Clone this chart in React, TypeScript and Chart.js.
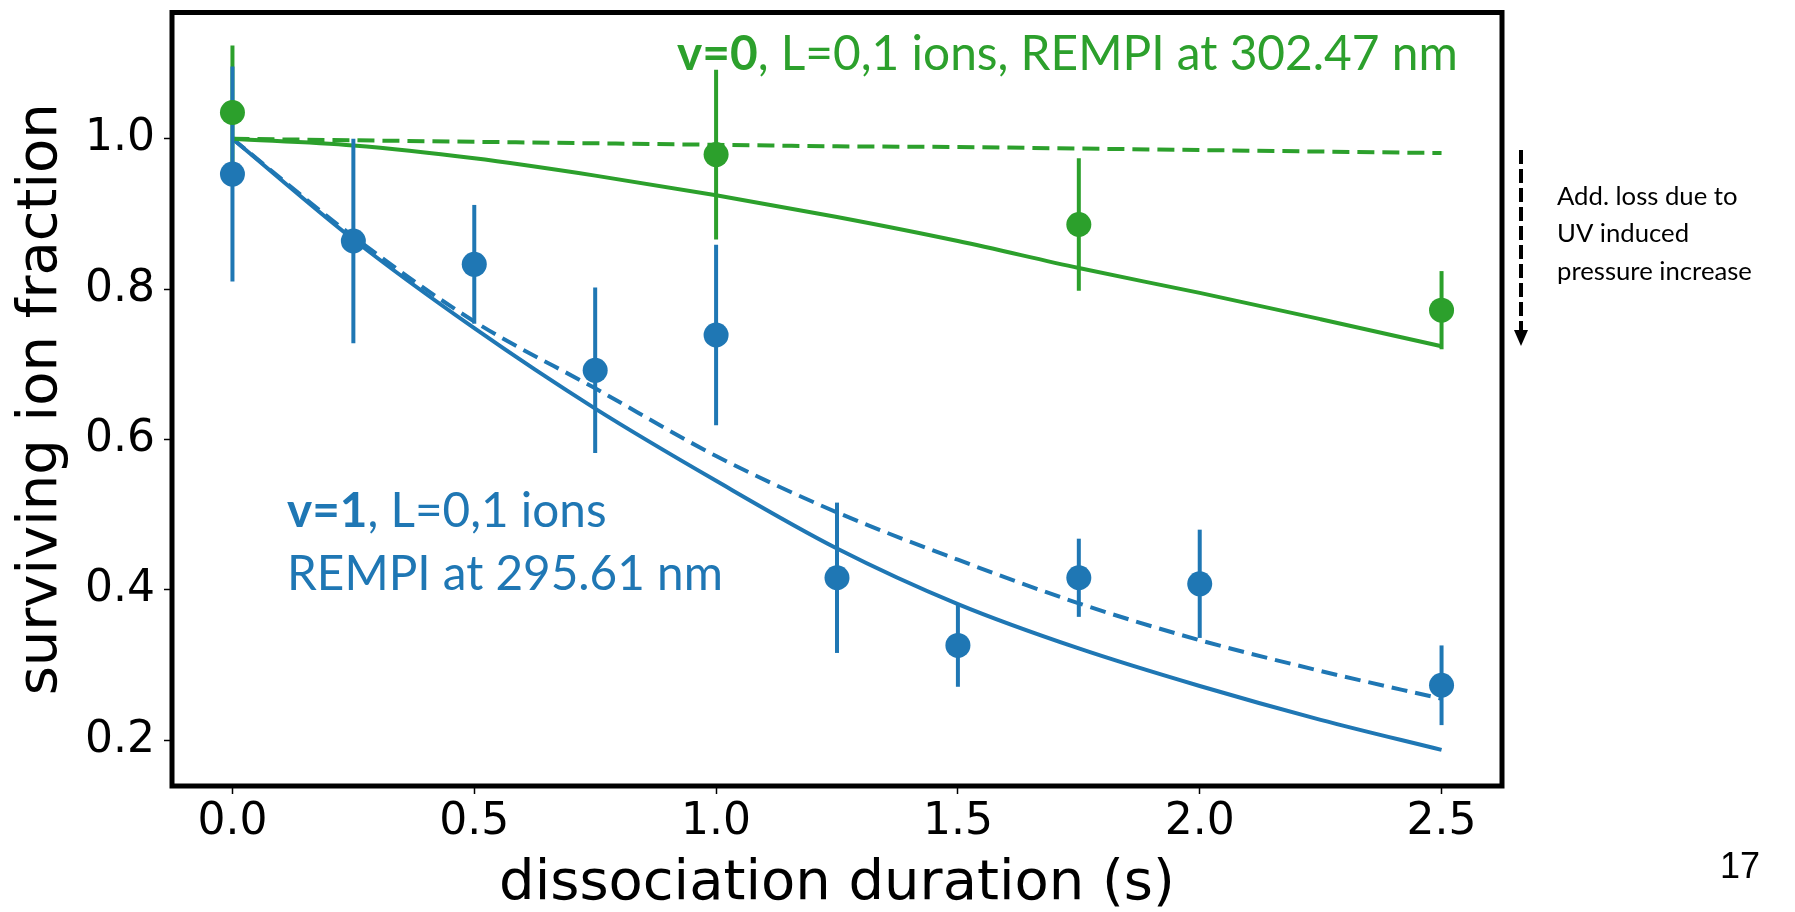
import React, { useEffect, useRef } from 'react';
import { Chart, registerables } from 'chart.js';

Chart.register(...registerables);

// ---- data ----
const blueX = [0, 0.25, 0.5, 0.75, 1.0, 1.25, 1.5, 1.75, 2.0, 2.5];
const blueY = [0.953, 0.864, 0.833, 0.692, 0.739, 0.416, 0.326, 0.416, 0.408, 0.273];
const blueErr = [0.143, 0.136, 0.079, 0.11, 0.12, 0.1, 0.055, 0.052, 0.072, 0.053];

const greenX = [0, 1.0, 1.75, 2.5];
const greenY = [1.035, 0.979, 0.886, 0.772];
const greenErr = [0.089, 0.113, 0.088, 0.052];

const fitX = [0, 0.25, 0.5, 0.75, 1.0, 1.25, 1.5, 1.75, 2.0, 2.25, 2.5];
const blueFit = [1.0, 0.866, 0.748, 0.641, 0.545, 0.455, 0.381, 0.322, 0.272, 0.227, 0.187];
const blueFitDashed = [1.0, 0.870, 0.757, 0.668, 0.578, 0.503, 0.440, 0.382, 0.333, 0.292, 0.255];
const greenFit = [1.0, 0.991, 0.974, 0.951, 0.925, 0.896, 0.864, 0.828, 0.795, 0.760, 0.724];
const greenFitDashed = [1.0, 0.998, 0.996, 0.994, 0.992, 0.990, 0.989, 0.987, 0.985, 0.983, 0.981];

const xTicks = [0, 0.5, 1.0, 1.5, 2.0, 2.5];
const yTicks = [0.2, 0.4, 0.6, 0.8, 1.0];

const xLabel = 'dissociation duration (s)';
const yLabel = 'surviving ion fraction';
const greenBold = 'v=0';
const greenRest = ', L=0,1 ions, REMPI at 302.47 nm';
const blueBold = 'v=1';
const blueRest = ', L=0,1 ions';
const blueLine2 = 'REMPI at 295.61 nm';
const noteLines = ['Add. loss due to', 'UV induced', 'pressure increase'];
const pageNumber = '17';

const BLUE = '#1f77b4';
const GREEN = '#2ca02c';
const TEXT_FONT = 'Lato';
const AXIS_FONT = 'DejaVu Sans';

type Part = { text: string; bold?: boolean };

function measureParts(ctx: CanvasRenderingContext2D, parts: Part[], size: number) {
  let w = 0;
  for (const p of parts) {
    ctx.font = `${p.bold ? 'bold ' : ''}${size}px ${TEXT_FONT}`;
    w += ctx.measureText(p.text).width;
  }
  return w;
}
function fitSize(ctx: CanvasRenderingContext2D, parts: Part[], target: number) {
  const w = measureParts(ctx, parts, 100);
  return (100 * target) / w;
}
function drawParts(ctx: CanvasRenderingContext2D, parts: Part[], x: number, y: number, size: number, color: string) {
  let cx = x;
  ctx.fillStyle = color;
  ctx.textBaseline = 'alphabetic';
  ctx.textAlign = 'left';
  for (const p of parts) {
    ctx.font = `${p.bold ? 'bold ' : ''}${size}px ${TEXT_FONT}`;
    ctx.fillText(p.text, cx, y);
    cx += ctx.measureText(p.text).width;
  }
}

const overlayPlugin = {
  id: 'overlay',
  beforeDatasetDraw(chart: any, args: any) {
    if (args.index !== 1) return;
    const ctx = chart.ctx as CanvasRenderingContext2D;
    const xs = chart.scales.x;
    const ys = chart.scales.y;
    ctx.save();
    ctx.lineWidth = 4;
    ctx.lineCap = 'butt';
    const bars = (X: number[], Y: number[], E: number[], color: string) => {
      ctx.strokeStyle = color;
      for (let i = 0; i < X.length; i++) {
        const px = xs.getPixelForValue(X[i]);
        ctx.beginPath();
        ctx.moveTo(px, ys.getPixelForValue(Y[i] - E[i]));
        ctx.lineTo(px, ys.getPixelForValue(Y[i] + E[i]));
        ctx.stroke();
      }
    };
    bars(greenX, greenY, greenErr, GREEN);
    bars(blueX, blueY, blueErr, BLUE);
    ctx.restore();
  },
  afterDraw(chart: any) {
    const ctx = chart.ctx as CanvasRenderingContext2D;
    const a = chart.chartArea;
    ctx.save();
    // frame
    ctx.strokeStyle = '#000';
    ctx.lineWidth = 5;
    ctx.strokeRect(a.left, a.top, a.right - a.left, a.bottom - a.top);

    // green annotation
    const gParts: Part[] = [{ text: greenBold, bold: true }, { text: greenRest }];
    const gSize = fitSize(ctx, gParts, 781);
    drawParts(ctx, gParts, 677, 70, gSize, GREEN);

    // blue annotation
    const bSize = fitSize(ctx, [{ text: blueLine2 }], 436);
    drawParts(ctx, [{ text: blueBold, bold: true }, { text: blueRest }], 287, 527, bSize, BLUE);
    drawParts(ctx, [{ text: blueLine2 }], 287, 590, bSize, BLUE);

    // right note
    const nSize = fitSize(ctx, [{ text: noteLines[2] }], 195);
    const noteY = [205, 242, 280];
    noteLines.forEach((t, i) => drawParts(ctx, [{ text: t }], 1557, noteY[i], nSize, '#000'));

    // dashed arrow
    ctx.strokeStyle = '#000';
    ctx.lineWidth = 4;
    ctx.setLineDash([14, 5]);
    ctx.beginPath();
    ctx.moveTo(1521, 150);
    ctx.lineTo(1521, 331);
    ctx.stroke();
    ctx.setLineDash([]);
    ctx.fillStyle = '#000';
    ctx.beginPath();
    ctx.moveTo(1514, 330);
    ctx.lineTo(1528, 330);
    ctx.lineTo(1521, 346);
    ctx.closePath();
    ctx.fill();

    // page number
    ctx.fillStyle = '#000';
    ctx.font = '36px "Liberation Sans"';
    ctx.textAlign = 'left';
    ctx.textBaseline = 'alphabetic';
    ctx.fillText(pageNumber, 1720, 878);
    ctx.restore();
  },
};

export default function App() {
  const canvasRef = useRef<HTMLCanvasElement | null>(null);

  useEffect(() => {
    const canvas = canvasRef.current;
    if (!canvas) return;
    const pts = (X: number[], Y: number[]) => X.map((x, i) => ({ x, y: Y[i] }));
    const tickFont = { family: AXIS_FONT, size: 44, lineHeight: 1 };
    const titleFont = { family: AXIS_FONT, size: 56, lineHeight: 1 };
    const chart = new Chart(canvas, {
      type: 'scatter',
      data: {
        datasets: [
          {
            data: pts(greenX, greenY),
            backgroundColor: GREEN,
            borderWidth: 0,
            pointRadius: 12.5,
            showLine: false,
            order: 0,
          },
          {
            data: pts(blueX, blueY),
            backgroundColor: BLUE,
            borderWidth: 0,
            pointRadius: 12.5,
            showLine: false,
            order: 1,
          },
          {
            data: pts(fitX, greenFitDashed),
            showLine: true,
            borderColor: GREEN,
            borderWidth: 4,
            borderDash: [17, 8],
            pointRadius: 0,
            cubicInterpolationMode: 'monotone',
            order: 2,
          },
          {
            data: pts(fitX, greenFit),
            showLine: true,
            borderColor: GREEN,
            borderWidth: 4,
            pointRadius: 0,
            cubicInterpolationMode: 'monotone',
            order: 3,
          },
          {
            data: pts(fitX, blueFitDashed),
            showLine: true,
            borderColor: BLUE,
            borderWidth: 4,
            borderDash: [16, 8],
            pointRadius: 0,
            cubicInterpolationMode: 'monotone',
            order: 4,
          },
          {
            data: pts(fitX, blueFit),
            showLine: true,
            borderColor: BLUE,
            borderWidth: 4,
            pointRadius: 0,
            cubicInterpolationMode: 'monotone',
            order: 5,
          },
        ],
      } as any,
      options: {
        animation: false,
        responsive: false,
        devicePixelRatio: 1,
        layout: { padding: { left: 0, top: 10, right: 293, bottom: 0 } },
        plugins: { legend: { display: false }, tooltip: { enabled: false } },
        scales: {
          x: {
            type: 'linear',
            min: -0.125,
            max: 2.625,
            afterBuildTicks: (s: any) => {
              s.ticks = xTicks.map((value) => ({ value }));
            },
            afterFit: (s: any) => {
              s.height = 126;
              s.paddingLeft = 0;
              s.paddingRight = 0;
            },
            border: { display: false },
            grid: {
              drawOnChartArea: false,
              drawTicks: true,
              tickLength: 8,
              tickColor: '#000',
              tickWidth: 1.5,
            },
            ticks: {
              autoSkip: false,
              maxRotation: 0,
              color: '#000',
              font: tickFont,
              padding: 7,
              callback: (v: any) => Number(v).toFixed(1),
            },
            title: {
              display: true,
              text: xLabel,
              color: '#000',
              font: titleFont,
              padding: { top: 0, bottom: 0 },
            },
          },
          y: {
            type: 'linear',
            min: 0.139,
            max: 1.168,
            afterBuildTicks: (s: any) => {
              s.ticks = yTicks.map((value) => ({ value }));
            },
            afterFit: (s: any) => {
              s.width = 172;
              s.paddingTop = 0;
              s.paddingBottom = 0;
            },
            border: { display: false },
            grid: {
              drawOnChartArea: false,
              drawTicks: true,
              tickLength: 8,
              tickColor: '#000',
              tickWidth: 1.5,
            },
            ticks: {
              autoSkip: false,
              color: '#000',
              font: tickFont,
              padding: 9,
              callback: (v: any) => Number(v).toFixed(1),
            },
            title: {
              display: true,
              text: yLabel,
              color: '#000',
              font: titleFont,
              padding: { top: 13, bottom: 0 },
            },
          },
        },
      } as any,
      plugins: [overlayPlugin],
    });
    return () => chart.destroy();
  }, []);

  return (
    <div style={{ position: 'fixed', left: 0, top: 0, width: 1795, height: 912, background: '#fff' }}>
      <canvas ref={canvasRef} width={1795} height={912} style={{ display: 'block', width: 1795, height: 912 }} />
    </div>
  );
}
